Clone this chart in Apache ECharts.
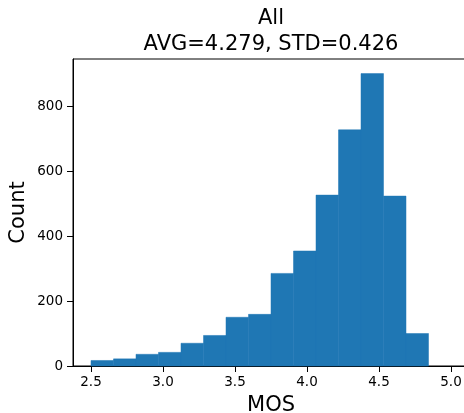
<!DOCTYPE html>
<html>
<head>
<meta charset="utf-8">
<script src="https://cdn.jsdelivr.net/npm/echarts@6/dist/echarts.min.js"></script>
<style>
  html, body { margin: 0; padding: 0; background: #fff; }
  #chart { width: 464px; height: 413px; }
</style>
</head>
<body>
<div id="chart"></div>
<script>
// histogram bins (left edges + last right edge) and counts
const binEdges = [2.5, 2.65625, 2.8125, 2.96875, 3.125, 3.28125, 3.4375, 3.59375,
  3.75, 3.90625, 4.0625, 4.21875, 4.375, 4.53125, 4.6875, 4.84375]
const counts = [17, 22, 36, 42, 70, 94, 150, 159, 285, 354, 526, 727, 900, 523, 100]
const xTicks = [2.5, 3.0, 3.5, 4.0, 4.5, 5.0]
const yTicks = [0, 200, 400, 600, 800]

const font = 'DejaVu Sans'
const bars = counts.map((c, i) => [binEdges[i], binEdges[i + 1], c])

const myChart = echarts.init(document.getElementById('chart'))
const option = {
  animation: false,
  title: {
    text: 'All\nAVG=4.279, STD=0.426',
    left: 266,
    top: 1,
    textAlign: 'center',
    textStyle: { fontFamily: font, fontSize: 21, fontWeight: 'normal', color: '#000', lineHeight: 26 }
  },
  grid: {
    left: 73, top: 59, width: 396, height: 307,
    outerBoundsMode: 'none',
    containLabel: false,
    show: true, borderColor: '#000', borderWidth: 1, backgroundColor: 'transparent'
  },
  xAxis: {
    type: 'value',
    min: 2.375,
    max: 5.125,
    name: 'MOS',
    nameLocation: 'middle',
    nameGap: 29,
    nameMoveOverlap: false,
    nameTextStyle: { fontFamily: font, fontSize: 21, color: '#000' },
    axisLine: { show: true, lineStyle: { color: '#000', width: 1 } },
    axisTick: { show: true, length: 6, lineStyle: { color: '#000' }, customValues: xTicks },
    axisLabel: {
      fontFamily: font, fontSize: 13.5, color: '#000', margin: 9,
      customValues: xTicks,
      formatter: v => v.toFixed(1)
    },
    splitLine: { show: false }
  },
  yAxis: {
    type: 'value',
    min: 0,
    max: 945,
    name: 'Count',
    nameLocation: 'middle',
    nameGap: 44,
    nameMoveOverlap: false,
    nameTextStyle: { fontFamily: font, fontSize: 21, color: '#000' },
    axisLine: { show: true, lineStyle: { color: '#000', width: 1 } },
    axisTick: { show: true, length: 6, lineStyle: { color: '#000' }, customValues: yTicks },
    axisLabel: { fontFamily: font, fontSize: 13.5, color: '#000', margin: 10, customValues: yTicks },
    splitLine: { show: false }
  },
  series: [
    {
      type: 'custom',
      encode: { x: [0, 1], y: 2 },
      data: bars,
      renderItem: (params, api) => {
        const p0 = api.coord([api.value(0), api.value(2)])
        const p1 = api.coord([api.value(1), 0])
        return {
          type: 'rect',
          shape: { x: p0[0], y: p0[1], width: p1[0] - p0[0], height: p1[1] - p0[1] },
          style: { fill: '#1f77b4', stroke: '#1f77b4', lineWidth: 0.5 }
        }
      }
    }
  ]
}
myChart.setOption(option)
</script>
</body>
</html>
